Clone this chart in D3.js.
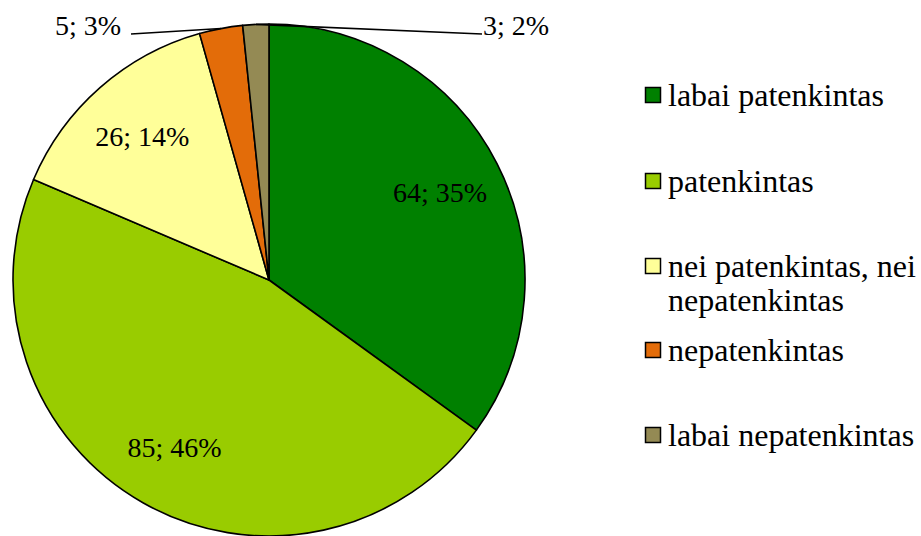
<!DOCTYPE html>
<meta charset="utf-8">
<style>
    body { margin: 0; background: #fff; }
</style>
<svg width="921" height="536"></svg>
<script src="https://cdn.jsdelivr.net/npm/d3@7/dist/d3.min.js"></script>
<script>

var categories = ["labai patenkintas", "patenkintas", "nei patenkintas, nei nepatenkintas", "nepatenkintas", "labai nepatenkintas"];
var values = [64, 85, 26, 5, 3];
var colors = ["#008000", "#99cc00", "#ffff99", "#e36c09", "#948a54"];
var legendLines = [["labai patenkintas"], ["patenkintas"], ["nei patenkintas, nei", "nepatenkintas"], ["nepatenkintas"], ["labai nepatenkintas"]];

var svg = d3.select("svg"),
    cx = 269, cy = 280, radius = 256,
    font = "'Liberation Serif', 'Times New Roman', serif";

var total = d3.sum(values);
var data = values.map(function(v, i) { return {name: categories[i], value: v, color: colors[i]}; });

var pie = d3.pie().sort(null).value(function(d) { return d.value; });
var arc = d3.arc().innerRadius(0).outerRadius(radius);
var labelArc = d3.arc().innerRadius(radius * 0.75).outerRadius(radius * 0.75);

var g = svg.append("g").attr("transform", "translate(" + cx + "," + cy + ")");
var arcs = pie(data);

g.selectAll("path.slice")
    .data(arcs)
    .enter().append("path")
    .attr("class", "slice")
    .attr("d", arc)
    .attr("fill", function(d) { return d.data.color; })
    .attr("stroke", "#000")
    .attr("stroke-width", 1.6)
    .attr("stroke-linejoin", "round");

function labelText(d) {
    return d.data.value + "; " + Math.round(d.data.value / total * 100) + "%";
}

// big slices: label inside
g.selectAll("text.inside")
    .data(arcs.filter(function(d) { return d.data.value / total > 0.05; }))
    .enter().append("text")
    .attr("class", "inside")
    .attr("transform", function(d) { return "translate(" + labelArc.centroid(d) + ")"; })
    .attr("text-anchor", "middle")
    .attr("dy", "0.35em")
    .attr("font-family", font)
    .attr("font-size", 28)
    .text(labelText);

// small slices: label outside with leader line
var small = arcs.filter(function(d) { return d.data.value / total <= 0.05; });
var outerPt = d3.arc().innerRadius(radius).outerRadius(radius);
var labelPos = [[-142, -255], [213, -255]]; // label anchor point relative to centre

small.forEach(function(d, i) {
    var p = outerPt.centroid(d);
    var lp = labelPos[i];
    var left = i === 0;
    g.append("path")
        .attr("d", d3.line()([[lp[0] + (left ? 4 : 0), lp[1] + 9], [p[0], p[1]]]))
        .attr("stroke", "#000")
        .attr("stroke-width", 1.6)
        .attr("fill", "none");
    g.append("text")
        .attr("x", lp[0] - (left ? 6 : -1))
        .attr("y", lp[1])
        .attr("text-anchor", left ? "end" : "start")
        .attr("dy", "0.35em")
        .attr("font-family", font)
        .attr("font-size", 28)
        .text(labelText(d));
});

// legend
var legendY = [95, 181, 266, 350, 435];
var legend = svg.append("g").attr("transform", "translate(645,0)");

var item = legend.selectAll("g.item")
    .data(data)
    .enter().append("g")
    .attr("class", "item")
    .attr("transform", function(d, i) { return "translate(0," + legendY[i] + ")"; });

item.append("rect")
    .attr("x", 0.5)
    .attr("y", -7.5)
    .attr("width", 15)
    .attr("height", 15)
    .attr("fill", function(d) { return d.color; })
    .attr("stroke", "#000")
    .attr("stroke-width", 1.5);

item.append("text")
    .attr("font-family", font)
    .attr("font-size", 32)
    .each(function(d, i) {
        var t = d3.select(this);
        legendLines[i].forEach(function(line, j) {
            t.append("tspan")
                .attr("x", 23)
                .attr("dy", j === 0 ? "0.33em" : "1.07em")
                .text(line);
        });
    });

</script>
